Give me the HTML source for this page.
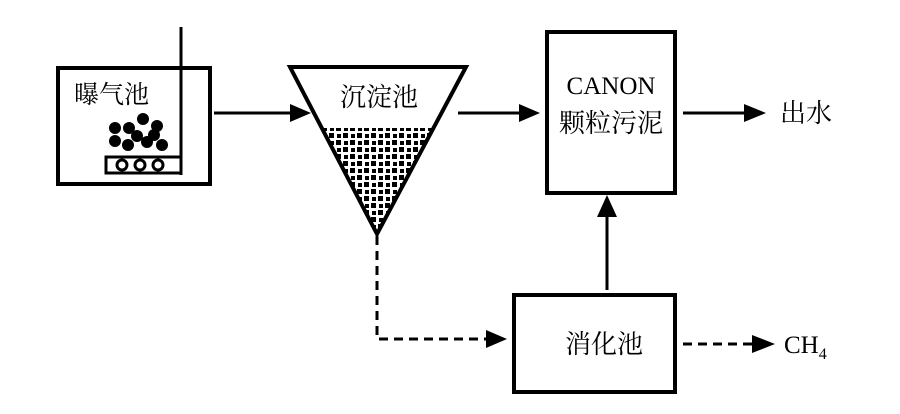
<!DOCTYPE html>
<html><head><meta charset="utf-8"><style>
body{margin:0;background:#fff}
text{font-family:"Liberation Serif","Noto Serif CJK SC",serif;fill:#000}
</style></head><body>
<svg width="900" height="409" viewBox="0 0 900 409" xmlns="http://www.w3.org/2000/svg">
<defs>
<pattern id="p" x="0" y="0" width="14" height="14" patternUnits="userSpaceOnUse">
<rect x="0" y="0" width="5" height="5" fill="#000"/>
<rect x="7" y="7" width="5" height="5" fill="#000"/>
<rect x="8" y="1" width="4" height="4" fill="#000"/>
<rect x="1" y="8" width="4" height="4" fill="#000"/>
</pattern>
<clipPath id="tc"><polygon points="292,68 464,68 377,232"/></clipPath>
</defs>
<rect x="58" y="68" width="152" height="116" fill="none" stroke="#000" stroke-width="4"/>
<text x="74" y="103" font-size="25" font-family="Liberation Sans,Noto Sans CJK SC,sans-serif">曝气池</text>
<line x1="181" y1="27" x2="181" y2="175" stroke="#000" stroke-width="3"/>
<rect x="106" y="157" width="75" height="16" fill="none" stroke="#000" stroke-width="3"/>
<g fill="#fff" stroke="#000" stroke-width="3">
<circle cx="122" cy="165" r="5"/><circle cx="140" cy="165" r="5"/><circle cx="158" cy="165" r="5"/>
</g>
<g fill="#000">
<circle cx="143" cy="119" r="6"/><circle cx="157" cy="126" r="6"/>
<circle cx="115" cy="128" r="6"/><circle cx="129" cy="128" r="6"/>
<circle cx="137" cy="136" r="6"/><circle cx="154" cy="135" r="6"/>
<circle cx="115" cy="141" r="6"/><circle cx="128" cy="145" r="6"/>
<circle cx="147" cy="142" r="6"/><circle cx="162" cy="145" r="6"/>
</g>
<line x1="214" y1="113" x2="292" y2="113" stroke="#000" stroke-width="3"/>
<polygon points="290,104 311,113 290,122" fill="#000"/>
<rect x="280" y="128" width="200" height="110" fill="url(#p)" clip-path="url(#tc)"/>
<polygon points="290,67 466,67 377,234" fill="none" stroke="#000" stroke-width="4" stroke-linejoin="miter"/>
<text x="340" y="106" font-size="26">沉淀池</text>
<line x1="458" y1="113" x2="522" y2="113" stroke="#000" stroke-width="3"/>
<polygon points="519,104 540,113 519,122" fill="#000"/>
<rect x="547" y="32" width="128" height="161" fill="none" stroke="#000" stroke-width="4"/>
<text x="611" y="94" font-size="25" text-anchor="middle">CANON</text>
<text x="611" y="132" font-size="26" text-anchor="middle">颗粒污泥</text>
<line x1="683" y1="113" x2="746" y2="113" stroke="#000" stroke-width="3"/>
<polygon points="744,104 766,113 744,122" fill="#000"/>
<text x="780" y="122" font-size="26">出水</text>
<line x1="607" y1="290" x2="607" y2="212" stroke="#000" stroke-width="3"/>
<polygon points="597,217 607,195 617,217" fill="#000"/>
<rect x="514" y="295" width="161" height="97" fill="none" stroke="#000" stroke-width="4"/>
<text x="565" y="353" font-size="26">消化池</text>
<path d="M377 236 V339 H488" fill="none" stroke="#000" stroke-width="3" stroke-dasharray="9,6"/>
<polygon points="486,330 507,339 486,348" fill="#000"/>
<line x1="683" y1="344" x2="755" y2="344" stroke="#000" stroke-width="3" stroke-dasharray="9,6"/>
<polygon points="752,335 775,344 752,353" fill="#000"/>
<text x="784" y="353" font-size="25">CH<tspan font-size="16" dy="6">4</tspan></text>
</svg>
</body></html>
